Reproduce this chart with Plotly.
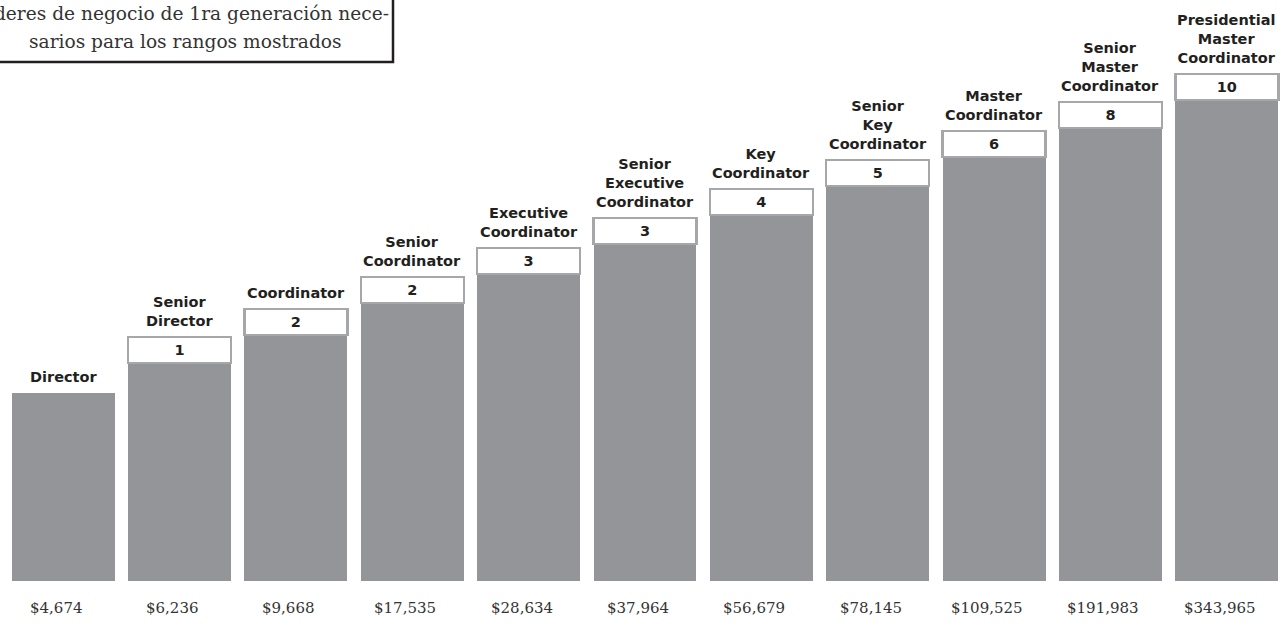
import plotly.graph_objects as go

ranks = ["Director", "Senior Director", "Coordinator", "Senior Coordinator",
         "Executive Coordinator", "Senior Executive Coordinator", "Key Coordinator",
         "Senior Key Coordinator", "Master Coordinator", "Senior Master Coordinator",
         "Presidential Master Coordinator"]
rank_labels = ["Director", "Senior<br>Director", "Coordinator", "Senior<br>Coordinator",
               "Executive<br>Coordinator", "Senior<br>Executive<br>Coordinator",
               "Key<br>Coordinator", "Senior<br>Key<br>Coordinator",
               "Master<br>Coordinator", "Senior<br>Master<br>Coordinator",
               "Presidential<br>Master<br>Coordinator"]
bar_level = [188, 218, 246, 278, 307, 337, 366, 395, 424, 453, 481]
leaders = [None, 1, 2, 2, 3, 3, 4, 5, 6, 8, 10]
box_size = [None, 26, 26, 26, 26, 26, 26, 26, 26, 26, 26]
earnings = ["$4,674", "$6,236", "$9,668", "$17,535", "$28,634", "$37,964",
            "$56,679", "$78,145", "$109,525", "$191,983", "$343,965"]
legend_lines = ["líderes de negocio de 1ra generación nece-",
                "sarios para los rangos mostrados"]

GRAY = "#939598"
BORDER = "#a5a7aa"
DARK = "#231f20"
SANS = "DejaVu Sans"
SERIF2 = "DejaVu Serif"

fig = go.Figure()
fig.add_trace(go.Bar(x=ranks, y=bar_level, marker=dict(color=GRAY, line=dict(width=0)),
                     hoverinfo="skip"))
fig.add_trace(go.Bar(x=ranks, y=box_size,
                     marker=dict(color="white", line=dict(color=BORDER, width=2.5)),
                     text=[str(v) if v is not None else "" for v in leaders],
                     textposition="inside", insidetextanchor="middle",
                     textfont=dict(family=SANS, size=14.5, color=DARK, weight="bold"),
                     constraintext="none", hoverinfo="skip"))

for r, lab, h, b in zip(ranks, rank_labels, bar_level, box_size):
    top = h + (b or 0)
    fig.add_annotation(x=r, y=top, xref="x", yref="y", text=lab, showarrow=False,
                       yanchor="bottom", yshift=6, align="center",
                       font=dict(family=SANS, size=14.5, color=DARK, weight="bold"))

for r, e in zip(ranks, earnings):
    fig.add_annotation(x=r, y=0, xref="x", yref="y", text=e, showarrow=False,
                       yanchor="middle", yshift=-27, xshift=-7,
                       font=dict(family=SERIF2, size=15, color="#333333"))

# legend box (partially cut at top-left, as in the reference)
fig.add_shape(type="rect", xref="paper", yref="paper",
              x0=-0.1, x1=(393 - 5) / 1280, y0=1 - 62 / 581, y1=1.2,
              line=dict(color=DARK, width=2.5), fillcolor="white", layer="above")
for i, line in enumerate(legend_lines):
    fig.add_annotation(xref="paper", yref="paper", x=(185 - 5) / 1280, y=1,
                       yanchor="middle", yshift=-(13 + 28 * i), xanchor="center",
                       text=line, showarrow=False, align="center",
                       font=dict(family=SERIF2, size=18.6, color="#333333"))

fig.update_layout(
    barmode="stack", bargap=0.115, showlegend=False,
    width=1285, height=624, margin=dict(l=5, r=0, t=0, b=43),
    paper_bgcolor="white", plot_bgcolor="white", hovermode=False,
    xaxis=dict(visible=False),
    yaxis=dict(visible=False, range=[0, 581]),
)
fig.write_html("out.html", config={"displayModeBar": False},
               post_script="document.body.style.margin='0';document.body.style.overflow='hidden';")
